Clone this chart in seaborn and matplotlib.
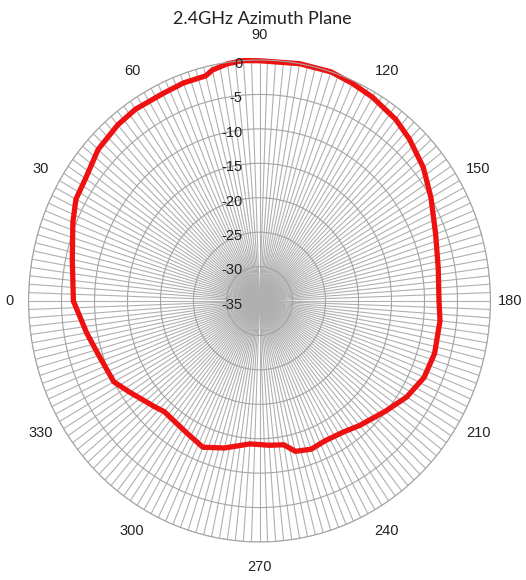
import numpy as np
import pandas as pd
import matplotlib
matplotlib.use("Agg")
import matplotlib.pyplot as plt
import seaborn as sns

# azimuth angle (deg) and gain (dB)
angles = [0, 12, 22, 28, 34, 42, 50, 56, 64, 70, 76, 78, 82, 86, 90,
          100, 108, 114, 120, 128, 134, 142, 150, 160, 170, 180,
          186, 196, 204, 212, 220, 230, 236, 244, 250, 256, 260,
          266, 274, 284, 292, 300, 312, 316, 326, 332, 342, 350, 360]
gain = [-6.8, -6.0, -4.5, -3.5, -3.2, -2.1, -1.6, -1.4, -1.5, -1.3, -1.3, -0.7, -0.2, 0.0, -0.1,
        0.0, 0.0, -0.4, -0.8, -1.5, -2.3, -3.5, -5.0, -6.6, -7.5, -7.8,
        -7.5, -7.4, -7.7, -8.7, -10.1, -11.4, -12.1, -12.4, -12.1, -12.5, -13.8,
        -14.0, -14.2, -13.0, -12.1, -12.9, -13.4, -12.9, -11.3, -10.0, -9.4, -8.4, -6.8]

rings = [-35, -30, -25, -20, -15, -10, -5, 0]
angle_labels = [0, 30, 60, 90, 120, 150, 180, 210, 240, 270, 300, 330]

df = pd.DataFrame({"theta": np.deg2rad(angles), "gain": gain})

sns.set_style("white")
plt.rcParams["font.family"] = ["Liberation Sans", "DejaVu Sans"]

fig = plt.figure(figsize=(5.26, 5.8), dpi=100)
ax = fig.add_axes([0.0542, 0.0655, 0.8783, 0.8310], projection="polar")
ax.set_theta_zero_location("W")
ax.set_theta_direction(-1)
ax.set_aspect("auto")

sns.lineplot(data=df, x="theta", y="gain", ax=ax, sort=False,
             color="#ee1111", linewidth=3.8)
ax.lines[0].set_clip_on(False)
ax.lines[0].set_solid_joinstyle("round")

ax.set_ylim(-35, 0)
ax.set_xticks(np.deg2rad(np.arange(0, 360, 2)))
ax.set_xticklabels([])
ax.set_yticks(rings)
ax.set_yticklabels([])
ax.set_xlabel("")
ax.set_ylabel("")
ax.tick_params(length=0)
ax.xaxis.grid(True, color="#b0b0b0", linewidth=0.8)
ax.yaxis.grid(True, color="#a4a4a4", linewidth=0.8)
ax.spines["polar"].set_color("#a4a4a4")
ax.spines["polar"].set_linewidth(0.8)

# angle labels sit a bit further out at top/bottom than at the sides
for a in angle_labels:
    t = np.deg2rad(a)
    ax.text(t, 2.9 + 0.8 * abs(np.sin(t)), str(a), ha="center", va="center",
            fontsize=10.5, color="#222222", clip_on=False)

for r in rings:
    ax.annotate(str(r), xy=(np.deg2rad(90), r), xytext=(-12.5, -2.8),
                textcoords="offset points", ha="right", va="center",
                fontsize=10.5, color="#222222")

fig.text(0.498, 1 - 19 / 580, "2.4GHz Azimuth Plane", ha="center", va="center",
         fontsize=13, color="#222222", family=["Lato", "DejaVu Sans"])

fig.savefig("out.png", dpi=100)
